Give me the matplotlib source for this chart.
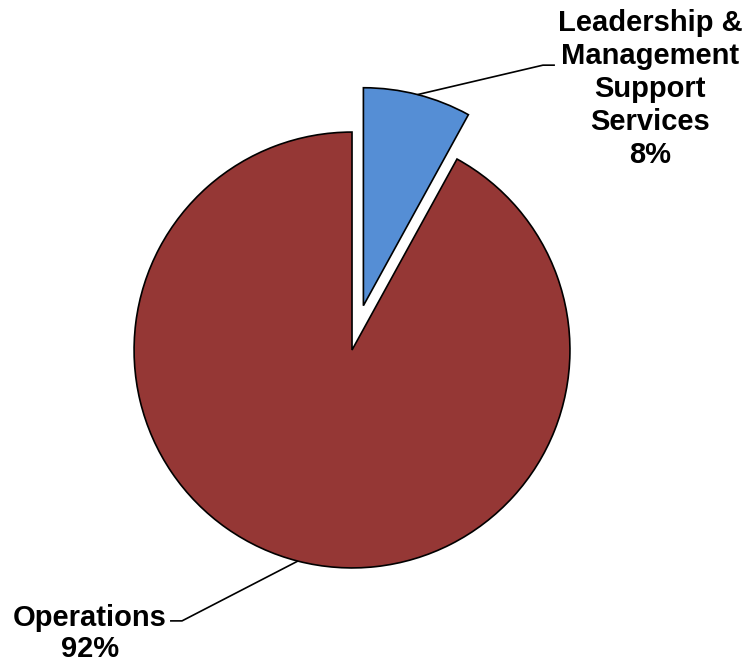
import numpy as np
import matplotlib
matplotlib.use("Agg")
from matplotlib import pyplot as plt

# data
categories = ["Leadership &\nManagement\nSupport\nServices", "Operations"]
shares = [8, 92]
colors = ["#558ED5", "#953735"]
explode = [0.21, 0.0]

fig = plt.figure(figsize=(7.45, 6.66), dpi=100)
ax = fig.add_axes([0, 0, 1, 1])
ax.set_aspect("equal")
ax.axis("off")

wedges, _ = ax.pie(shares, colors=colors, explode=explode, startangle=90,
                   counterclock=False, radius=1.0,
                   wedgeprops=dict(edgecolor="black", linewidth=1.2))

ax.set_xlim(-1.615, 1.803)
ax.set_ylim(-1.450, 1.606)

# label positions (text centre, elbow of leader line, end of leader line)
label_pos = [(1.367, 1.197), (-1.202, -1.302)]
elbows = [((0.876, 1.307), (0.931, 1.307)), ((-0.780, -1.243), (-0.835, -1.243))]

for w, cat, val, (tx, ty), (el, en) in zip(wedges, categories, shares, label_pos, elbows):
    ang = np.deg2rad((w.theta1 + w.theta2) / 2)
    cx, cy = w.center
    sx, sy = cx + w.r * np.cos(ang), cy + w.r * np.sin(ang)
    ax.plot([sx, el[0], en[0]], [sy, el[1], en[1]], color="black", lw=1.2,
            solid_capstyle="butt")
    ax.text(tx, ty, f"{cat}\n{val}%", ha="center", va="center",
            fontsize=21, fontweight="bold", family="Liberation Sans",
            linespacing=1.15 if val > 50 else 1.22)

fig.savefig("out.png", dpi=100)
